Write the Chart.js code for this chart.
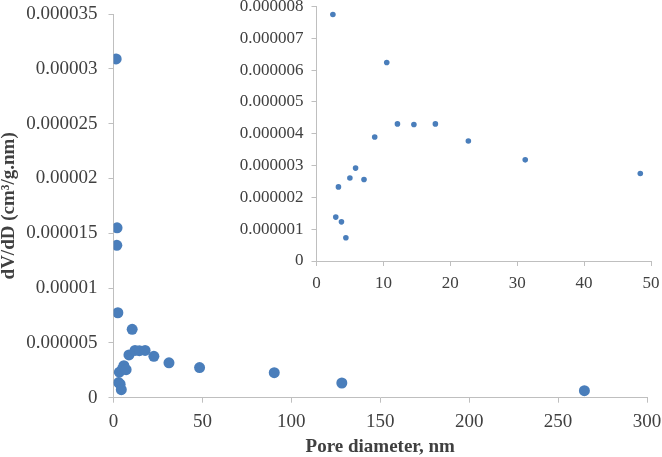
<!DOCTYPE html>
<html>
<head>
<meta charset="utf-8">
<script src="https://cdn.jsdelivr.net/npm/chart.js@4/dist/chart.umd.min.js"></script>
<style>
  body { margin: 0; background: #fff; }
  #wrap { position: relative; width: 662px; height: 457px; overflow: hidden; }
  #main { position: absolute; left: 0; top: 0; }
  #inset { position: absolute; left: 230px; top: -20px; }
</style>
</head>
<body>
<div id="wrap">
  <canvas id="main" width="662" height="457"></canvas>
  <canvas id="inset" width="432" height="320"></canvas>
</div>
<script>
// pore size distribution
const poreDiameter = [1.5, 2.0, 1.86, 2.45, 2.88, 3.28, 3.73, 4.39, 4.99, 5.84, 7.1, 8.7,
                      10.5, 12.1, 14.56, 17.77, 22.7, 31.2, 48.4, 90.4, 128.4, 264.8];
const dVdD = [30.9e-6, 15.5e-6, 13.9e-6, 7.75e-6, 1.38e-6, 2.33e-6, 1.23e-6, 0.73e-6, 2.61e-6, 2.92e-6, 2.56e-6, 3.90e-6,
              6.24e-6, 4.31e-6, 4.29e-6, 4.31e-6, 3.77e-6, 3.18e-6, 2.75e-6, 2.28e-6, 1.34e-6, 0.64e-6];

const mainX = { min: 0, max: 300, step: 50 };
const mainY = { min: 0, max: 0.000035, step: 0.000005 };
const insetX = { min: 0, max: 50, step: 10 };
const insetY = { min: 0, max: 0.000008, step: 0.000001 };

const blue = '#4a7ebb';
const axisGray = '#bfbfbf';
const textGray = '#404040';
const serif = '"Liberation Serif", "Times New Roman", serif';

// 0.000030 -> 0.00003, 0.000000 -> 0
function fmt(v) {
    let s = Number(v).toFixed(6);
    s = s.replace(/0+$/, '').replace(/\.$/, '');
    return s;
}

const allPoints = poreDiameter.map((x, i) => ({ x: x, y: dVdD[i] }));
const insetPoints = allPoints.filter(p => p.x <= insetX.max && p.y <= insetY.max);

// fixed scale size, and no extra room for the end labels (layout padding does that)
function fixSize(w, h) {
    return function (s) {
        if (w != null) s.width = w;
        if (h != null) s.height = h;
        s.paddingLeft = 0; s.paddingRight = 0;
        s.paddingTop = 0; s.paddingBottom = 0;
    };
}

function axis(range, size, pad, opts) {
    return Object.assign({
        type: 'linear',
        min: range.min,
        max: range.max,
        border: { color: axisGray, width: 1 },
        grid: { drawOnChartArea: false, drawTicks: true, tickLength: 5, color: axisGray },
        ticks: {
            stepSize: range.step,
            autoSkip: false,
            maxRotation: 0,
            padding: pad,
            color: textGray,
            font: { family: serif, size: size }
        }
    }, opts || {});
}

new Chart(document.getElementById('main'), {
    type: 'scatter',
    data: {
        datasets: [{
            data: allPoints,
            backgroundColor: blue,
            borderColor: blue,
            borderWidth: 0,
            pointRadius: 5.5
        }]
    },
    options: {
        responsive: false,
        animation: false,
        devicePixelRatio: 1,
        layout: { padding: { top: 14, right: 15, left: 0, bottom: 0 } },
        plugins: { legend: { display: false }, tooltip: { enabled: false } },
        scales: {
            x: axis(mainX, 19, 8, {
                title: {
                    display: true, text: 'Pore diameter, nm', color: textGray,
                    font: { family: serif, size: 19, weight: 'bold', lineHeight: 1 },
                    padding: { top: 0, bottom: 0 }
                },
                afterFit: fixSize(null, 59.3)
            }),
            y: axis(mainY, 19, 11, {
                title: {
                    display: true, text: 'dV/dD (cm\u00b3/g.nm)', color: textGray,
                    font: { family: serif, size: 19, weight: 'bold', lineHeight: 1 },
                    padding: { top: 0, bottom: 0 }
                },
                afterFit: fixSize(113.5, null)
            })
        }
    }
});
// y tick labels need the fixed format
Chart.getChart('main').options.scales.y.ticks.callback = v => fmt(v);
Chart.getChart('main').update('none');

new Chart(document.getElementById('inset'), {
    type: 'scatter',
    data: {
        datasets: [{
            data: insetPoints,
            backgroundColor: blue,
            borderColor: blue,
            borderWidth: 0,
            pointRadius: 2.8
        }]
    },
    options: {
        responsive: false,
        animation: false,
        devicePixelRatio: 1,
        layout: { padding: { top: 26.5, right: 11, left: 0, bottom: 0 } },
        plugins: { legend: { display: false }, tooltip: { enabled: false } },
        scales: {
            x: axis(insetX, 17, 7, { afterFit: fixSize(null, 39) }),
            y: axis(insetY, 17, 8, { afterFit: fixSize(86.5, null) })
        }
    }
});
Chart.getChart('inset').options.scales.y.ticks.callback = v => fmt(v);
Chart.getChart('inset').update('none');
</script>
</body>
</html>
